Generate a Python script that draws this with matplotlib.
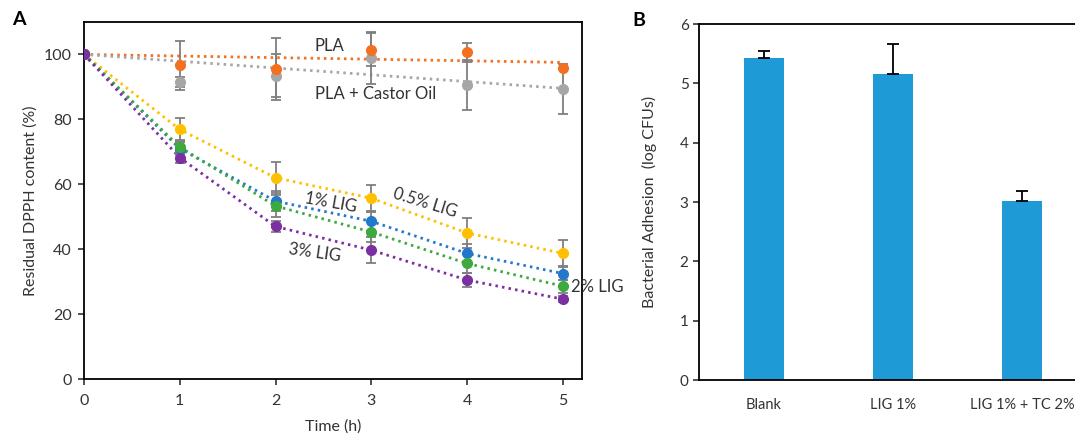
import numpy as np
import matplotlib
matplotlib.use('Agg')
import matplotlib.pyplot as plt

plt.rcParams['font.family'] = ['Lato', 'DejaVu Sans']
plt.rcParams['font.size'] = 11
plt.rcParams['axes.linewidth'] = 1.3

# panel A: residual DPPH content over time
time_h = [0, 1, 2, 3, 4, 5]
pla = [100, 96.6, 95.5, 101.5, 100.6, 95.7]
pla_err = [0, 7.5, 9.5, 5.0, 3.0, 0]
castor = [100, 91.5, 93.5, 99.0, 90.5, 89.5]
castor_err = [0, 1.5, 6.7, 8.0, 7.7, 7.7]
lig05 = [100, 76.9, 62.0, 55.7, 45.0, 38.7]
lig05_err = [0, 3.5, 4.8, 4.0, 4.5, 4.0]
lig1 = [100, 71.0, 54.8, 48.6, 38.7, 32.5]
lig1_err = [0, 2.0, 3.0, 3.0, 3.0, 2.0]
lig2 = [100, 71.5, 53.3, 45.3, 35.6, 28.6]
lig2_err = [0, 2.0, 3.5, 3.0, 3.0, 2.0]
lig3 = [100, 68.2, 47.0, 39.7, 30.5, 24.6]
lig3_err = [0, 1.8, 1.8, 4.0, 2.2, 1.0]

# panel B: bacterial adhesion
groups = ['Blank', 'LIG 1%', 'LIG 1% + TC 2%']
adhesion = [5.43, 5.16, 3.02]
adhesion_err = [0.12, 0.50, 0.17]

c_orange = '#F37021'
c_gray = '#A6A6A6'
c_yellow = '#FFC000'
c_blue = '#2378CC'
c_green = '#3DAA3D'
c_purple = '#7B2FA0'
c_err = '#7F7F7F'
c_txt = '#333333'

fig = plt.figure(figsize=(10.75, 4.37), dpi=100)
ax = fig.add_axes([0.0781, 0.1327, 0.4633, 0.817])

t = np.array(time_h, dtype=float)

# trendlines through 100 % for the PLA series (least squares slope)
def trend(vals):
    v = np.array(vals) - 100
    k = np.sum(t * v) / np.sum(t * t)
    return 100 + k * t

dots = (0.9, 1.5)
for vals, col in [(pla, c_orange), (castor, c_gray)]:
    ax.plot(t, trend(vals), color=col, lw=2, dashes=dots, zorder=2)

for vals, col in [(lig05, c_yellow), (lig1, c_blue), (lig2, c_green), (lig3, c_purple)]:
    ax.plot(t, vals, color=col, lw=2, dashes=dots, zorder=2)

series = [(castor, castor_err, c_gray), (pla, pla_err, c_orange),
          (lig05, lig05_err, c_yellow), (lig1, lig1_err, c_blue),
          (lig2, lig2_err, c_green), (lig3, lig3_err, c_purple)]
for vals, err, col in series:
    ax.errorbar(t, vals, yerr=err, fmt='none', ecolor=c_err, elinewidth=1.3,
                capsize=3.5, capthick=1.3, zorder=3)
for vals, err, col in series:
    ax.plot(t, vals, 'o', color=col, ms=7, zorder=4)

ax.set_xlim(0, 5.2)
ax.set_ylim(0, 110)
ax.set_xticks(range(6))
ax.set_yticks(range(0, 101, 20))
ax.tick_params(direction='out', length=4, width=1.2, labelsize=11.5, colors=c_txt)
ax.tick_params(axis='x', pad=7)
ax.tick_params(axis='y', pad=5)
ax.set_xlabel('Time (h)', fontsize=11.5, labelpad=8, color=c_txt)
ax.set_ylabel('Residual DPPH content (%)', fontsize=11.5, labelpad=4, color=c_txt)
for s in ax.spines.values():
    s.set_color('black')

txt = dict(fontsize=12, color=c_txt, ha='center', va='center')
ax.text(2.56, 102.5, 'PLA', **txt)
ax.text(3.05, 87.7, 'PLA + Castor Oil', **txt)
ax.text(2.58, 54.2, '1% LIG', rotation=-10, **txt)
ax.text(3.56, 54.2, '0.5% LIG', rotation=-17, **txt)
ax.text(2.41, 39.0, '3% LIG', rotation=-8, **txt)
ax.text(5.09, 28.3, '2% LIG', fontsize=12, color=c_txt, ha='left', va='center')

fig.text(0.011, 0.955, 'A', fontsize=14, fontweight='bold', va='center')
fig.text(0.588, 0.952, 'B', fontsize=14, fontweight='bold', va='center')

# panel B
bx = fig.add_axes([0.6502, 0.1304, 0.361, 0.8146])
xb = np.arange(len(groups))
bx.bar(xb, adhesion, width=0.31, color='#1E9AD6', zorder=2)
bx.errorbar(xb, adhesion, yerr=[np.zeros(len(adhesion)), adhesion_err], fmt='none',
            ecolor='black', elinewidth=1.3, capsize=4, capthick=1.3, zorder=3)
bx.set_xlim(-0.5, 2.5)
bx.set_ylim(0, 6)
bx.set_xticks(xb)
bx.set_xticklabels(groups)
bx.tick_params(axis='x', length=0, pad=13, labelsize=10.5, colors=c_txt)
bx.tick_params(axis='y', direction='out', length=4, width=1.2, labelsize=11, colors=c_txt)
bx.set_ylabel('Bacterial Adhesion  (log CFUs)', fontsize=11.5, labelpad=16, color=c_txt)
bx.spines['right'].set_visible(False)
for s in ['left', 'bottom', 'top']:
    bx.spines[s].set_color('black')

fig.savefig('out.png', dpi=100)
